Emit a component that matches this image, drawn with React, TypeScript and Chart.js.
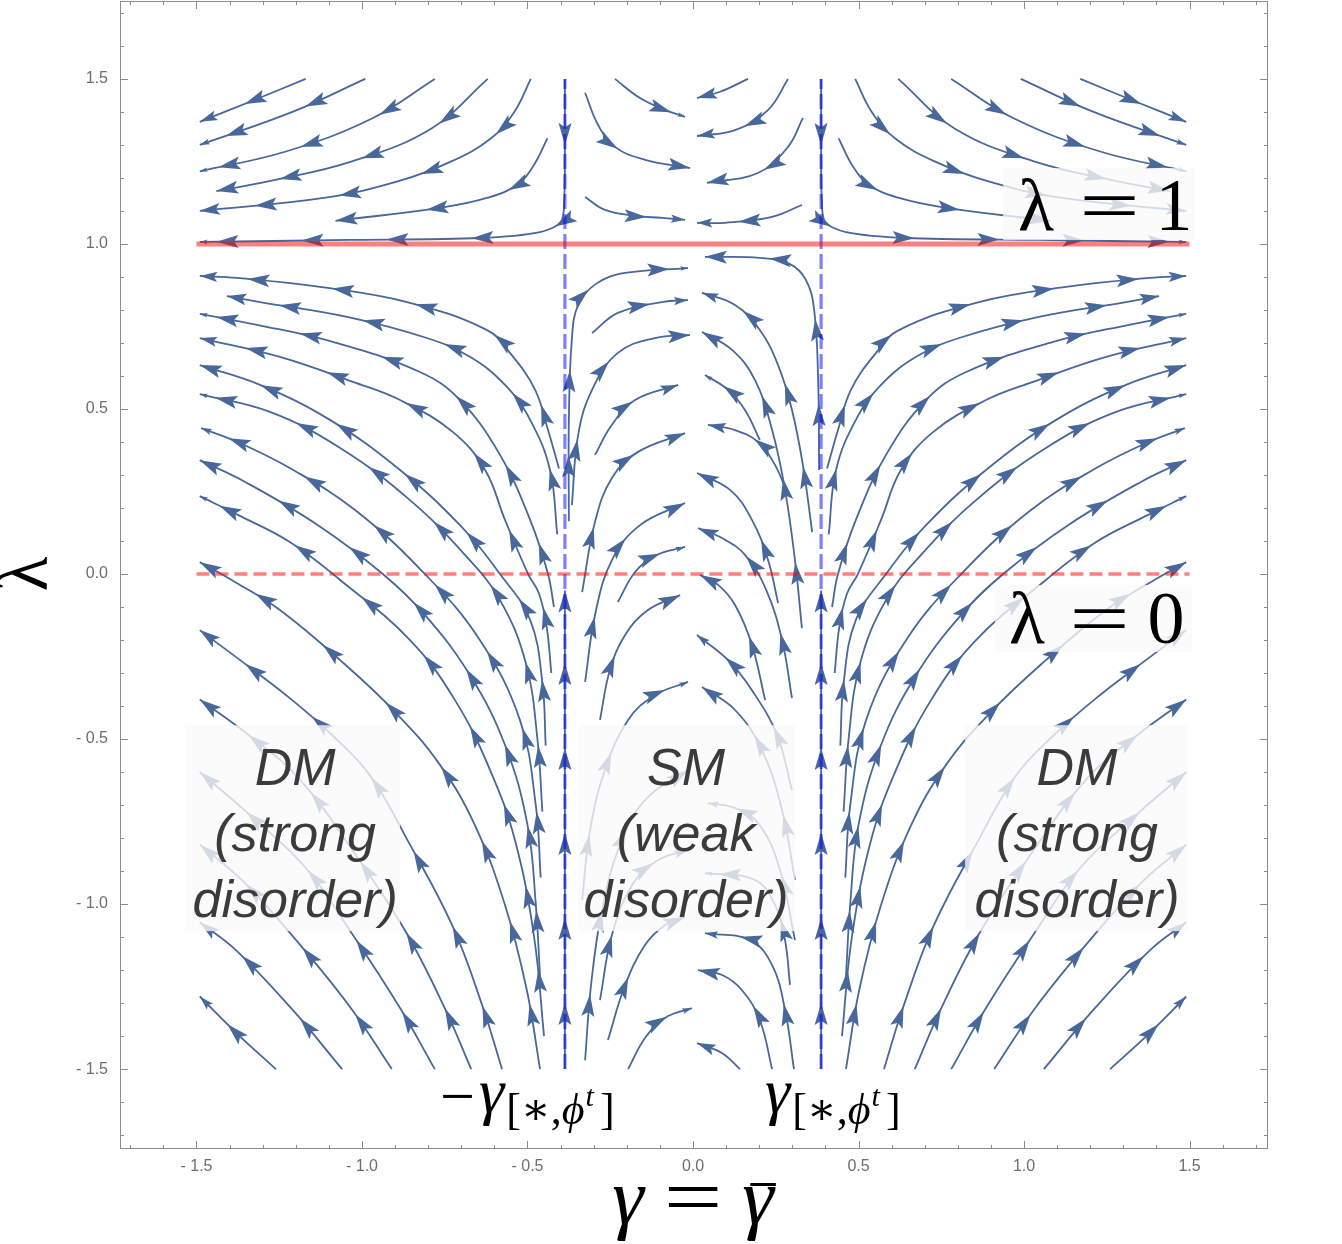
import React, { useEffect, useRef } from 'react';
import { Chart, registerables } from 'chart.js';

Chart.register(...registerables);

type Pt = [number, number];

// ---------------- axes ----------------
const X_MIN = -1.731;
const X_MAX = 1.737;
const Y_MIN = -1.742;
const Y_MAX = 1.736;
const X_TICKS = [-1.5, -1, -0.5, 0, 0.5, 1, 1.5];
const Y_TICKS = [-1.5, -1, -0.5, 0, 0.5, 1, 1.5];

// ---------------- reference lines ----------------
const GAMMA_STAR = 0.387;
const LINE_SPAN: [number, number] = [-1.5, 1.5];
const LAMBDA_SOLID = 1;
const LAMBDA_DASHED = 0;

// ---------------- streamlines (gamma, lambda), in flow order ----------------
// above lambda = 1, outer left
const TL1: Pt[] = [[-1.17, 1.5], [-1.34, 1.43], [-1.49, 1.37]];
const TL2: Pt[] = [[-0.99, 1.5], [-1.21, 1.4], [-1.49, 1.3]];
const TL3: Pt[] = [[-0.78, 1.5], [-0.97, 1.38], [-1.23, 1.28], [-1.49, 1.22]];
const TL4: Pt[] = [[-0.62, 1.5], [-0.79, 1.35], [-1.03, 1.25], [-1.28, 1.19], [-1.44, 1.16]];
const TL5: Pt[] = [[-0.49, 1.5], [-0.54, 1.4], [-0.61, 1.32], [-0.73, 1.25], [-0.89, 1.19], [-1.11, 1.14], [-1.49, 1.1]];
const TL6: Pt[] = [[-0.44, 1.32], [-0.48, 1.24], [-0.53, 1.18], [-0.62, 1.14], [-0.76, 1.11], [-1.08, 1.07]];
// above lambda = 1, outer right
const TR1: Pt[] = [[1.17, 1.5], [1.34, 1.43], [1.49, 1.37]];
const TR2: Pt[] = [[0.99, 1.5], [1.21, 1.4], [1.49, 1.3]];
const TR3: Pt[] = [[0.78, 1.5], [0.97, 1.38], [1.23, 1.28], [1.49, 1.22]];
const TR4: Pt[] = [[0.62, 1.5], [0.79, 1.35], [1.03, 1.25], [1.28, 1.19], [1.44, 1.16]];
const TR5: Pt[] = [[0.49, 1.5], [0.54, 1.4], [0.61, 1.32], [0.73, 1.25], [0.89, 1.19], [1.11, 1.14], [1.49, 1.1]];
const TR6: Pt[] = [[0.44, 1.32], [0.48, 1.24], [0.53, 1.18], [0.62, 1.14], [0.76, 1.11], [1.08, 1.07]];
// separatrix from the top, turning along lambda = 1
const SEP_TL: Pt[] = [[-0.387, 1.5], [-0.387, 1.285], [-0.389, 1.133], [-0.399, 1.067], [-0.462, 1.036], [-0.644, 1.018], [-1.04, 1.012], [-1.49, 1.006]];
const SEP_TR: Pt[] = [[0.387, 1.5], [0.387, 1.285], [0.389, 1.133], [0.399, 1.067], [0.462, 1.036], [0.644, 1.018], [1.04, 1.012], [1.49, 1.006]];
// separatrix from the bottom
const SEP_BL: Pt[] = [[-0.387, -1.5], [-0.387, -0.05]];
const SEP_BR: Pt[] = [[0.387, -1.5], [0.387, -0.05]];

// middle, above lambda = 1
const M1: Pt[] = [[-0.326, 1.458], [-0.287, 1.361], [-0.236, 1.294], [-0.145, 1.255], [-0.009, 1.23]];
const M2: Pt[] = [[-0.236, 1.5], [-0.16, 1.442], [-0.085, 1.406], [-0.024, 1.385]];
const M3: Pt[] = [[-0.326, 1.142], [-0.266, 1.103], [-0.175, 1.085], [-0.094, 1.079], [-0.024, 1.073]];
const M4: Pt[] = [[0.166, 1.5], [0.082, 1.461], [0.012, 1.442]];
const M5: Pt[] = [[0.287, 1.5], [0.227, 1.406], [0.127, 1.345], [0.012, 1.327]];
const M6: Pt[] = [[0.332, 1.382], [0.287, 1.294], [0.196, 1.215], [0.042, 1.185]];
const M7: Pt[] = [[0.329, 1.118], [0.239, 1.082], [0.097, 1.064], [0.012, 1.064]];

// middle, left half, below lambda = 1
const Q1: Pt[] = [[-0.375, 0.16], [-0.375, 0.47], [-0.366, 0.71], [-0.347, 0.815], [-0.293, 0.879], [-0.205, 0.912], [-0.015, 0.927]];
const Q2: Pt[] = [[-0.305, 0.73], [-0.227, 0.791], [-0.094, 0.824], [-0.015, 0.83]];
const Q3: Pt[] = [[-0.366, 0.209], [-0.347, 0.421], [-0.305, 0.558], [-0.227, 0.67], [-0.115, 0.715], [-0.009, 0.724]];
const Q4: Pt[] = [[-0.296, 0.361], [-0.245, 0.452], [-0.175, 0.527], [-0.045, 0.573]];
const Q5: Pt[] = [[-0.335, -0.055], [-0.296, 0.158], [-0.245, 0.291], [-0.166, 0.37], [-0.024, 0.427]];
const Q6: Pt[] = [[-0.326, -0.327], [-0.296, -0.124], [-0.245, 0.042], [-0.16, 0.148], [-0.024, 0.215]];
const Q7: Pt[] = [[-0.227, -0.085], [-0.175, 0.006], [-0.115, 0.055], [-0.024, 0.082]];
const Q8: Pt[] = [[-0.281, -0.442], [-0.251, -0.291], [-0.205, -0.185], [-0.136, -0.109], [-0.039, -0.064]];
const Q9: Pt[] = [[-0.335, -0.988], [-0.311, -0.776], [-0.266, -0.594], [-0.196, -0.442], [-0.115, -0.367], [-0.015, -0.327]];
const Q10: Pt[] = [[-0.326, -1.473], [-0.308, -1.245], [-0.275, -1.018], [-0.221, -0.821], [-0.145, -0.685], [-0.015, -0.594]];
const Q11: Pt[] = [[-0.281, -1.291], [-0.245, -1.094], [-0.184, -0.942], [-0.106, -0.867], [-0.015, -0.836]];
const Q12: Pt[] = [[-0.257, -1.412], [-0.205, -1.245], [-0.145, -1.124], [-0.085, -1.064], [-0.024, -1.039]];
const Q13: Pt[] = [[-0.196, -1.5], [-0.145, -1.406], [-0.085, -1.345], [-0.003, -1.315]];

// middle, right half, below lambda = 1
const R1: Pt[] = [[0.381, 0.315], [0.378, 0.588], [0.366, 0.8], [0.341, 0.891], [0.293, 0.939], [0.202, 0.958], [0.036, 0.961]];
const R2: Pt[] = [[0.36, 0.127], [0.332, 0.33], [0.299, 0.497], [0.257, 0.633], [0.202, 0.739], [0.127, 0.815], [0.027, 0.852]];
const R3: Pt[] = [[0.329, -0.164], [0.308, 0.042], [0.278, 0.255], [0.239, 0.436], [0.187, 0.588], [0.118, 0.679], [0.027, 0.733]];
const R4: Pt[] = [[0.202, 0.406], [0.157, 0.497], [0.106, 0.558], [0.036, 0.603]];
const R5: Pt[] = [[0.287, 0.239], [0.248, 0.33], [0.196, 0.4], [0.127, 0.436], [0.045, 0.452]];
const R6: Pt[] = [[0.257, -0.088], [0.227, 0.042], [0.178, 0.164], [0.112, 0.255], [0.012, 0.306]];
const R7: Pt[] = [[0.299, -0.376], [0.269, -0.2], [0.221, -0.048], [0.157, 0.058], [0.088, 0.109], [0.015, 0.139]];
const R8: Pt[] = [[0.218, -0.382], [0.178, -0.215], [0.127, -0.094], [0.076, -0.033], [0.021, -0.003]];
const R9: Pt[] = [[0.299, -0.655], [0.254, -0.488], [0.178, -0.352], [0.106, -0.261], [0.012, -0.185]];
const R10: Pt[] = [[0.308, -0.927], [0.269, -0.715], [0.208, -0.533], [0.127, -0.412], [0.027, -0.342]];
const R11: Pt[] = [[0.308, -1.109], [0.263, -0.897], [0.202, -0.761], [0.127, -0.709], [0.045, -0.694]];
const R12: Pt[] = [[0.293, -1.245], [0.278, -1.109], [0.248, -1.003], [0.187, -0.927], [0.036, -0.906]];
const R13: Pt[] = [[0.305, -1.5], [0.278, -1.321], [0.239, -1.185], [0.172, -1.109], [0.036, -1.088]];
const R14: Pt[] = [[0.239, -1.5], [0.202, -1.352], [0.148, -1.261], [0.088, -1.215], [0.015, -1.2]];
const R15: Pt[] = [[0.142, -1.5], [0.088, -1.452], [0.012, -1.421]];

// outer left, below lambda = 1
const B1: Pt[] = [[-1.26, -1.5], [-1.38, -1.39], [-1.49, -1.28]];
const B2: Pt[] = [[-1.06, -1.5], [-1.21, -1.32], [-1.38, -1.14], [-1.49, -1.055]];
const B3: Pt[] = [[-0.91, -1.5], [-1.03, -1.32], [-1.19, -1.12], [-1.36, -0.93], [-1.49, -0.82]];
const B4: Pt[] = [[-0.78, -1.5], [-0.885, -1.315], [-1.03, -1.09], [-1.17, -0.89], [-1.35, -0.72], [-1.49, -0.6]];
const B5: Pt[] = [[-0.67, -1.5], [-0.75, -1.315], [-0.87, -1.08], [-1.02, -0.85], [-1.19, -0.62], [-1.34, -0.49], [-1.49, -0.38]];
const B6: Pt[] = [[-0.577, -1.5], [-0.634, -1.315], [-0.725, -1.07], [-0.855, -0.82], [-0.976, -0.61], [-1.088, -0.49], [-1.218, -0.376], [-1.36, -0.267], [-1.49, -0.17]];
const B7: Pt[] = [[-0.462, -1.5], [-0.502, -1.261], [-0.568, -1.003], [-0.659, -0.761], [-0.764, -0.579], [-0.9, -0.418], [-1.066, -0.261], [-1.248, -0.109], [-1.384, -0.024], [-1.49, 0.036]];
const C1: Pt[] = [[-0.45, -1.4], [-0.48, -1.1], [-0.538, -0.806], [-0.613, -0.594], [-0.719, -0.382], [-0.855, -0.2], [-1.066, -0.018], [-1.218, 0.097], [-1.375, 0.179], [-1.49, 0.236]];
const C2: Pt[] = [[-0.462, -1.22], [-0.475, -1.0], [-0.5, -0.76], [-0.568, -0.518], [-0.674, -0.306], [-0.81, -0.124], [-0.937, 0], [-1.133, 0.148], [-1.353, 0.279], [-1.49, 0.345]];
const C3: Pt[] = [[-0.46, -0.92], [-0.475, -0.7], [-0.523, -0.442], [-0.644, -0.2], [-0.81, 0], [-1.021, 0.194], [-1.218, 0.321], [-1.369, 0.397], [-1.486, 0.442]];
const U6: Pt[] = [[-0.455, -0.72], [-0.47, -0.5], [-0.505, -0.27], [-0.583, -0.079], [-0.689, 0.058], [-0.855, 0.224], [-1.066, 0.382], [-1.278, 0.491], [-1.49, 0.545]];
const U5: Pt[] = [[-0.445, -0.52], [-0.455, -0.33], [-0.492, -0.139], [-0.583, 0], [-0.704, 0.148], [-0.885, 0.315], [-1.097, 0.467], [-1.308, 0.573], [-1.49, 0.633]];
const U4: Pt[] = [[-0.428, -0.3], [-0.442, -0.16], [-0.465, -0.06], [-0.498, 0], [-0.568, 0.164], [-0.628, 0.315], [-0.725, 0.43], [-0.885, 0.527], [-1.027, 0.582], [-1.248, 0.658], [-1.49, 0.715]];
const U3: Pt[] = [[-0.42, -0.1], [-0.438, 0], [-0.492, 0.164], [-0.583, 0.361], [-0.704, 0.527], [-0.825, 0.612], [-1.088, 0.703], [-1.317, 0.755], [-1.49, 0.788]];
const U2: Pt[] = [[-0.41, 0.12], [-0.432, 0.315], [-0.492, 0.467], [-0.568, 0.573], [-0.674, 0.658], [-0.804, 0.715], [-1.045, 0.779], [-1.308, 0.824], [-1.408, 0.842]];
const U1: Pt[] = [[-0.405, 0.32], [-0.438, 0.436], [-0.477, 0.558], [-0.553, 0.67], [-0.622, 0.739], [-0.864, 0.824], [-1.127, 0.87], [-1.378, 0.897], [-1.49, 0.903]];

// outer right, below lambda = 1
const BR1: Pt[] = [[1.26, -1.5], [1.38, -1.39], [1.49, -1.28]];
const BR2: Pt[] = [[1.06, -1.5], [1.21, -1.32], [1.38, -1.14], [1.49, -1.055]];
const BR3: Pt[] = [[0.91, -1.5], [1.03, -1.32], [1.19, -1.12], [1.36, -0.93], [1.49, -0.82]];
const BR4: Pt[] = [[0.78, -1.5], [0.885, -1.315], [1.03, -1.09], [1.17, -0.89], [1.35, -0.72], [1.49, -0.6]];
const BR5: Pt[] = [[0.67, -1.5], [0.75, -1.315], [0.87, -1.08], [1.02, -0.85], [1.19, -0.62], [1.34, -0.49], [1.49, -0.38]];
const BR6: Pt[] = [[0.577, -1.5], [0.634, -1.315], [0.725, -1.07], [0.855, -0.82], [0.976, -0.61], [1.088, -0.49], [1.218, -0.376], [1.36, -0.267], [1.49, -0.17]];
const BR7: Pt[] = [[0.462, -1.5], [0.502, -1.261], [0.568, -1.003], [0.659, -0.761], [0.764, -0.579], [0.9, -0.418], [1.066, -0.261], [1.248, -0.109], [1.384, -0.024], [1.49, 0.036]];
const CR1: Pt[] = [[0.45, -1.4], [0.48, -1.1], [0.538, -0.806], [0.613, -0.594], [0.719, -0.382], [0.855, -0.2], [1.066, -0.018], [1.218, 0.097], [1.375, 0.179], [1.49, 0.236]];
const CR2: Pt[] = [[0.462, -1.22], [0.475, -1.0], [0.5, -0.76], [0.568, -0.518], [0.674, -0.306], [0.81, -0.124], [0.937, 0], [1.133, 0.148], [1.353, 0.279], [1.49, 0.345]];
const CR3: Pt[] = [[0.46, -0.92], [0.475, -0.7], [0.523, -0.442], [0.644, -0.2], [0.81, 0], [1.021, 0.194], [1.218, 0.321], [1.369, 0.397], [1.486, 0.442]];
const UR6: Pt[] = [[0.455, -0.72], [0.47, -0.5], [0.505, -0.27], [0.583, -0.079], [0.689, 0.058], [0.855, 0.224], [1.066, 0.382], [1.278, 0.491], [1.49, 0.545]];
const UR5: Pt[] = [[0.445, -0.52], [0.455, -0.33], [0.492, -0.139], [0.583, 0], [0.704, 0.148], [0.885, 0.315], [1.097, 0.467], [1.308, 0.573], [1.49, 0.633]];
const UR4: Pt[] = [[0.428, -0.3], [0.442, -0.16], [0.465, -0.06], [0.498, 0], [0.568, 0.164], [0.628, 0.315], [0.725, 0.43], [0.885, 0.527], [1.027, 0.582], [1.248, 0.658], [1.49, 0.715]];
const UR3: Pt[] = [[0.42, -0.1], [0.438, 0], [0.492, 0.164], [0.583, 0.361], [0.704, 0.527], [0.825, 0.612], [1.088, 0.703], [1.317, 0.755], [1.49, 0.788]];
const UR2: Pt[] = [[0.41, 0.12], [0.432, 0.315], [0.492, 0.467], [0.568, 0.573], [0.674, 0.658], [0.804, 0.715], [1.045, 0.779], [1.308, 0.824], [1.408, 0.842]];
const UR1: Pt[] = [[0.405, 0.32], [0.438, 0.436], [0.477, 0.558], [0.553, 0.67], [0.622, 0.739], [0.864, 0.824], [1.127, 0.87], [1.378, 0.897], [1.49, 0.903]];

const STREAMLINES: Pt[][] = [
  TL1, TL2, TL3, TL4, TL5, TL6, TR1, TR2, TR3, TR4, TR5, TR6,
  M1, M2, M3, M4, M5, M6, M7,
  Q1, Q2, Q3, Q4, Q5, Q6, Q7, Q8, Q9, Q10, Q11, Q12, Q13,
  R1, R2, R3, R4, R5, R6, R7, R8, R9, R10, R11, R12, R13, R14, R15,
  B1, B2, B3, B4, B5, B6, B7, C1, C2, C3, U6, U5, U4, U3, U2, U1,
  BR1, BR2, BR3, BR4, BR5, BR6, BR7, CR1, CR2, CR3, UR6, UR5, UR4, UR3, UR2, UR1,
];
const SEPARATRICES: Pt[][] = [SEP_TL, SEP_TR, SEP_BL, SEP_BR];

// ---------------- annotation texts ----------------
const REGION_TEXT_LINES = [
  ['DM', '(strong', 'disorder)'],
  ['SM', '(weak', 'disorder)'],
  ['DM', '(strong', 'disorder)'],
];
const REGION_TEXT_X = [-1.202, -0.021, 1.16];
const REGION_BOX_X: [number, number][] = [[-1.535, -0.885], [-0.347, 0.308], [0.822, 1.495]];
const REGION_BOX_Y: [number, number] = [-0.458, -1.082];
const REGION_BASELINES = [-0.639, -0.839, -1.039];

const LAMBDA_LABELS = [
  { parts: ['λ', '=', '1'], xs: [1.036, 1.258, 1.453], base: 1.042, box: [0.937, 1.517, 1.23, 1.012] },
  { parts: ['λ', '=', '0'], xs: [1.009, 1.228, 1.429], base: -0.209, box: [0.912, 1.508, -0.033, -0.236] },
];
const FIXED_LABEL_X = [-0.764, 0.2175];
const FIXED_LABEL_BASE = -1.63;

// ---------------- styles ----------------
const STREAM_COLOR = 'rgb(72,103,154)';
const ARROW_FIRST = 66;
const ARROW_STEP = 85;
const ARROW_LEN = 22;
const ARROW_HALF = 6.5;
const SERIF = '"Liberation Serif", "DejaVu Serif", serif';
const SANS = '"Liberation Sans", Arial, sans-serif';

const toXY = (pts: Pt[]) => pts.map(([x, y]) => ({ x, y }));

const arrowPlugin = {
  id: 'streamArrows',
  afterDatasetDraw(chart: any, args: any) {
    const ds = chart.data.datasets[args.index];
    if (!ds.streamline) return;
    const els = args.meta.data;
    if (!els || els.length < 2) return;
    const poly: number[][] = [[els[0].x, els[0].y]];
    for (let i = 1; i < els.length; i++) {
      const a = els[i - 1];
      const b = els[i];
      const c1x = a.cp2x ?? a.x, c1y = a.cp2y ?? a.y;
      const c2x = b.cp1x ?? b.x, c2y = b.cp1y ?? b.y;
      for (let k = 1; k <= 24; k++) {
        const t = k / 24, u = 1 - t;
        poly.push([
          u * u * u * a.x + 3 * u * u * t * c1x + 3 * u * t * t * c2x + t * t * t * b.x,
          u * u * u * a.y + 3 * u * u * t * c1y + 3 * u * t * t * c2y + t * t * t * b.y,
        ]);
      }
    }
    const cum = [0];
    for (let i = 1; i < poly.length; i++) {
      cum.push(cum[i - 1] + Math.hypot(poly[i][0] - poly[i - 1][0], poly[i][1] - poly[i - 1][1]));
    }
    const total = cum[cum.length - 1];
    const stops: number[] = [];
    for (let s = ARROW_FIRST; s < total - 14; s += ARROW_STEP) stops.push(s);
    stops.push(total);
    const ctx = chart.ctx;
    let prev = 0;
    for (const s of stops) {
      const seg = s - prev;
      prev = s;
      const f = Math.max(0.35, Math.min(1, seg / 60));
      let j = 1;
      while (j < cum.length - 1 && cum[j] < s) j++;
      const d = Math.max(1e-6, cum[j] - cum[j - 1]);
      const t = Math.min(1, (s - cum[j - 1]) / d);
      const x = poly[j - 1][0] + t * (poly[j][0] - poly[j - 1][0]);
      const y = poly[j - 1][1] + t * (poly[j][1] - poly[j - 1][1]);
      const ang = Math.atan2(poly[j][1] - poly[j - 1][1], poly[j][0] - poly[j - 1][0]);
      const L = ARROW_LEN * f;
      const H = ARROW_HALF * f;
      ctx.save();
      ctx.translate(x, y);
      ctx.rotate(ang);
      ctx.fillStyle = ds.borderColor;
      ctx.beginPath();
      ctx.moveTo(0, 0);
      ctx.lineTo(-L, -H);
      ctx.lineTo(-0.8 * L, 0);
      ctx.lineTo(-L, H);
      ctx.closePath();
      ctx.fill();
      ctx.restore();
    }
  },
};

function drawFixedLabel(ctx: CanvasRenderingContext2D, x0: number, base: number, minus: boolean) {
  let cx = x0;
  ctx.textAlign = 'left';
  ctx.textBaseline = 'alphabetic';
  ctx.fillStyle = '#000';
  if (minus) {
    ctx.font = `62px ${SERIF}`;
    ctx.fillText('−', cx, base + 5);
    cx += ctx.measureText('−').width + 4;
  }
  ctx.font = `italic 64px ${SERIF}`;
  ctx.fillText('γ', cx, base);
  cx += ctx.measureText('γ').width + 2;
  ctx.font = `44px ${SERIF}`;
  ctx.fillText('[∗,', cx, base + 12);
  cx += ctx.measureText('[∗,').width;
  ctx.font = `italic 44px ${SERIF}`;
  ctx.fillText('ϕ', cx, base + 12);
  cx += ctx.measureText('ϕ').width + 1;
  ctx.font = `italic 30px ${SERIF}`;
  ctx.fillText('t', cx, base - 6);
  cx += ctx.measureText('t').width + 6;
  ctx.font = `44px ${SERIF}`;
  ctx.fillText(']', cx, base + 12);
}

const decorPlugin = {
  id: 'decor',
  afterDraw(chart: any) {
    const { ctx, chartArea: a, scales } = chart;
    const xs = scales.x;
    const ys = scales.y;
    const px = (v: number) => xs.getPixelForValue(v);
    const py = (v: number) => ys.getPixelForValue(v);
    ctx.save();

    // region boxes and texts
    REGION_BOX_X.forEach(([x0, x1], i) => {
      ctx.fillStyle = 'rgba(250,250,250,0.78)';
      ctx.fillRect(px(x0), py(REGION_BOX_Y[0]), px(x1) - px(x0), py(REGION_BOX_Y[1]) - py(REGION_BOX_Y[0]));
      ctx.fillStyle = '#3b3b3b';
      ctx.font = `italic 52px ${SANS}`;
      ctx.textAlign = 'center';
      ctx.textBaseline = 'alphabetic';
      REGION_TEXT_LINES[i].forEach((t, k) => ctx.fillText(t, px(REGION_TEXT_X[i]), py(REGION_BASELINES[k])));
    });

    // lambda labels
    LAMBDA_LABELS.forEach((lab) => {
      const [x0, x1, y0, y1] = lab.box;
      ctx.fillStyle = 'rgba(250,250,250,0.78)';
      ctx.fillRect(px(x0), py(y0), px(x1) - px(x0), py(y1) - py(y0));
      ctx.fillStyle = '#000';
      ctx.textAlign = 'center';
      ctx.textBaseline = 'alphabetic';
      ctx.font = `74px ${SERIF}`;
      lab.parts.forEach((p, k) => {
        const cx = px(lab.xs[k]);
        const cy = py(lab.base);
        if (p === '=') {
          ctx.save();
          ctx.translate(cx, cy);
          ctx.scale(1.45, 1);
          ctx.fillText(p, 0, 0);
          ctx.restore();
        } else {
          ctx.fillText(p, cx, cy);
        }
      });
    });

    // fixed point labels
    drawFixedLabel(ctx, px(FIXED_LABEL_X[0]), py(FIXED_LABEL_BASE), true);
    drawFixedLabel(ctx, px(FIXED_LABEL_X[1]), py(FIXED_LABEL_BASE), false);

    // frame and inward ticks
    ctx.strokeStyle = '#8c8c8c';
    ctx.lineWidth = 1;
    ctx.strokeRect(a.left + 0.5, a.top + 0.5, a.right - a.left - 1, a.bottom - a.top - 1);
    ctx.beginPath();
    for (let i = -17; i <= 17; i++) {
      const v = i / 10;
      const len = i % 5 === 0 ? 8 : 4;
      const x = Math.round(px(v)) + 0.5;
      ctx.moveTo(x, a.bottom);
      ctx.lineTo(x, a.bottom - len);
      ctx.moveTo(x, a.top);
      ctx.lineTo(x, a.top + len);
      const y = Math.round(py(v)) + 0.5;
      ctx.moveTo(a.left, y);
      ctx.lineTo(a.left + len, y);
      ctx.moveTo(a.right, y);
      ctx.lineTo(a.right - len, y);
    }
    ctx.stroke();

    // axis titles
    ctx.fillStyle = '#000';
    ctx.textBaseline = 'alphabetic';
    ctx.textAlign = 'left';
    ctx.font = `italic 80px ${SERIF}`;
    const wg = ctx.measureText('γ').width;
    ctx.font = `80px ${SERIF}`;
    const we = ctx.measureText('=').width * 1.3;
    const gap = 20;
    const totalW = wg * 2 + we + gap * 2;
    const cx0 = px(0) - totalW / 2;
    const base = 1224;
    ctx.font = `italic 80px ${SERIF}`;
    ctx.fillText('γ', cx0, base);
    ctx.font = `80px ${SERIF}`;
    ctx.save();
    ctx.translate(cx0 + wg + gap, base);
    ctx.scale(1.3, 1);
    ctx.fillText('=', 0, 0);
    ctx.restore();
    ctx.font = `italic 80px ${SERIF}`;
    const g2 = cx0 + wg + gap + we + gap;
    ctx.fillText('γ', g2, base);
    ctx.fillRect(g2 + 8, 1183, wg - 6, 3);

    ctx.save();
    ctx.translate(28, py(0));
    ctx.rotate(-Math.PI / 2);
    ctx.textAlign = 'center';
    ctx.textBaseline = 'middle';
    ctx.font = `72px ${SERIF}`;
    ctx.fillText('λ', 0, 0);
    ctx.restore();

    ctx.restore();
  },
};

const tickLabel = (v: number) => (v < 0 ? '- ' + Math.abs(v).toFixed(1) : v.toFixed(1));

export default function App() {
  const ref = useRef<HTMLCanvasElement>(null);
  useEffect(() => {
    const canvas = ref.current;
    if (!canvas) return;
    const datasets: any[] = [];
    STREAMLINES.forEach((s) =>
      datasets.push({
        data: toXY(s), showLine: true, borderColor: STREAM_COLOR, borderWidth: 1.8,
        pointRadius: 0, tension: 0.4, fill: false, order: 2, streamline: true,
      })
    );
    SEPARATRICES.forEach((s) =>
      datasets.push({
        data: toXY(s), showLine: true, borderColor: STREAM_COLOR, borderWidth: 1.8,
        pointRadius: 0, tension: 0.3, fill: false, order: 2, streamline: true,
      })
    );
    datasets.push({
      data: toXY([[LINE_SPAN[0], LAMBDA_SOLID], [LINE_SPAN[1], LAMBDA_SOLID]]), showLine: true,
      borderColor: 'rgba(255,0,0,0.5)', borderWidth: 5, pointRadius: 0, order: 0,
    });
    datasets.push({
      data: toXY([[LINE_SPAN[0], LAMBDA_DASHED], [LINE_SPAN[1], LAMBDA_DASHED]]), showLine: true,
      borderColor: 'rgba(255,0,0,0.5)', borderWidth: 3.5, borderDash: [13, 6], pointRadius: 0, order: 0,
    });
    [-GAMMA_STAR, GAMMA_STAR].forEach((g) =>
      datasets.push({
        data: toXY([[g, LINE_SPAN[0]], [g, LINE_SPAN[1]]]), showLine: true,
        borderColor: 'rgba(0,0,255,0.5)', borderWidth: 3.2, borderDash: [15, 5], pointRadius: 0, order: 0,
      })
    );

    const zeroPad = (scale: any) => {
      scale.paddingTop = 0;
      scale.paddingBottom = 0;
      scale.paddingLeft = 0;
      scale.paddingRight = 0;
    };

    const chart = new Chart(canvas, {
      type: 'scatter',
      data: { datasets },
      options: {
        responsive: false,
        animation: false,
        events: [],
        layout: { padding: { left: 0, right: 74, top: 1, bottom: 0 } },
        plugins: { legend: { display: false }, tooltip: { enabled: false }, title: { display: false } },
        scales: {
          x: {
            type: 'linear', position: 'bottom', min: X_MIN, max: X_MAX,
            grid: { display: false, drawTicks: false, tickLength: 0 },
            border: { display: false },
            afterBuildTicks: (scale: any) => { scale.ticks = X_TICKS.map((v) => ({ value: v })); },
            afterFit: (scale: any) => { scale.height = 95; zeroPad(scale); },
            ticks: {
              autoSkip: false, maxRotation: 0, padding: 8, color: '#6e6e6e',
              font: { size: 16, family: SANS }, callback: (v: any) => tickLabel(Number(v)),
            },
          },
          y: {
            type: 'linear', position: 'left', min: Y_MIN, max: Y_MAX,
            grid: { display: false, drawTicks: false, tickLength: 0 },
            border: { display: false },
            afterBuildTicks: (scale: any) => { scale.ticks = Y_TICKS.map((v) => ({ value: v })); },
            afterFit: (scale: any) => { scale.width = 120; zeroPad(scale); },
            ticks: {
              autoSkip: false, padding: 12, color: '#6e6e6e',
              font: { size: 16, family: SANS }, callback: (v: any) => tickLabel(Number(v)),
            },
          },
        },
      } as any,
      plugins: [arrowPlugin, decorPlugin],
    });
    return () => chart.destroy();
  }, []);

  return (
    <div style={{ position: 'absolute', left: 0, top: 0, width: 1342, height: 1244, background: '#fff' }}>
      <canvas ref={ref} width={1342} height={1244} style={{ width: 1342, height: 1244, display: 'block' }} />
    </div>
  );
}
